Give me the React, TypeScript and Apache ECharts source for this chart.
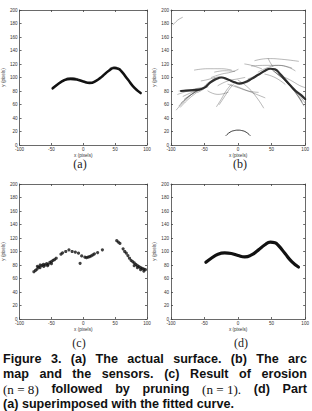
import React, { useEffect, useRef } from "react";
import * as echarts from "echarts";

// (a) actual surface, sampled along the curve [x, y] in pixels
const SURFACE: number[][] = [
  [-48, 84], [-40, 90], [-30, 96], [-20, 98], [-10, 97], [0, 94], [10, 92],
  [20, 95], [30, 102], [40, 110], [48, 114], [55, 113], [60, 109], [70, 97],
  [80, 85], [90, 77],
];
// faint double strokes on the peaks of (a)
const SURFACE_TRACE_1: number[][] = [[-26, 99], [-16, 100], [-6, 96]];
const SURFACE_TRACE_2: number[][] = [[42, 114], [50, 116], [56, 113]];

// (b) dense ridge of the arc map
const ARC_RIDGE: number[][] = [
  [-85, 80], [-70, 81], [-58, 82], [-50, 85], [-42, 92], [-32, 98], [-25, 100],
  [-15, 97], [-5, 93], [2, 91], [10, 93], [20, 98], [30, 104], [40, 110],
  [48, 113], [55, 112], [62, 106], [70, 97], [78, 88], [86, 80], [94, 74], [100, 68],
];
// (b) individual sonar arcs
const ARCS: number[][][] = [
  [[-92, 52], [-80, 65], [-65, 78], [-55, 83]],
  [[-88, 58], [-76, 70], [-62, 80]],
  [[-85, 62], [-72, 73], [-58, 82]],
  [[-80, 68], [-68, 76], [-55, 82]],
  [[-90, 75], [-75, 80], [-60, 84], [-45, 86]],
  [[-88, 80], [-70, 82], [-55, 84], [-45, 92], [-35, 98]],
  [[-60, 78], [-50, 84], [-40, 95], [-28, 101], [-15, 98]],
  [[-65, 111], [-45, 113], [-25, 113], [-10, 111]],
  [[-40, 100], [-25, 105], [-10, 108], [0, 112]],
  [[-30, 88], [-15, 95], [0, 98], [10, 100]],
  [[-32, 57], [-25, 68], [-18, 80], [-10, 90]],
  [[-28, 60], [-20, 72], [-12, 84], [-5, 92]],
  [[0, 96], [15, 85], [28, 70], [38, 55]],
  [[-5, 88], [10, 82], [25, 76], [40, 70]],
  [[-45, 80], [-30, 75], [-15, 78]],
  [[25, 125], [45, 128], [65, 127], [90, 124]],
  [[20, 117], [40, 118], [60, 118], [80, 114]],
  [[45, 128], [48, 122], [52, 116]],
  [[30, 108], [45, 115], [60, 118], [75, 115], [85, 110]],
  [[50, 112], [65, 100], [80, 85], [95, 65]],
  [[55, 108], [70, 95], [85, 78], [98, 58]],
  [[60, 105], [75, 92], [90, 75], [100, 62]],
  [[40, 105], [55, 100], [70, 90]],
  [[15, 98], [30, 104], [42, 110]],
  [[-20, 100], [-5, 93], [10, 92], [20, 97]],
  [[-97, 178], [-90, 185], [-83, 189]],
  [[-55, 95], [-45, 97], [-35, 100]],
  [[-15, 90], [0, 85], [15, 80], [30, 78]],
  [[70, 100], [80, 95], [92, 88], [100, 85]],
  [[10, 120], [20, 118], [35, 113]],
  [[-86, 56], [-74, 68], [-60, 79]],
  [[-82, 72], [-66, 79], [-52, 83]],
  [[52, 110], [68, 97], [84, 80], [96, 62]],
  [[-35, 108], [-20, 110], [-5, 109]],
];
// (b) sensor arc near the origin
const SENSOR_ARC: number[][] = [
  [-18, 14], [-12, 19], [-5, 21.5], [0, 22], [5, 21.5], [12, 19], [18, 14],
];

// (c) points left after erosion and pruning
const EROSION: number[][] = [
  [-77.5, 70], [-75, 72], [-72.5, 74], [-70, 77], [-67.5, 80], [-65, 79],
  [-62.5, 81], [-60, 80], [-57.5, 82], [-55, 81], [-52.5, 84], [-50, 85],
  [-47.5, 87], [-45, 88], [-42.5, 90], [-72, 78], [-68, 76], [-62, 78],
  [-56, 79], [-50, 82], [-35, 96], [-32.5, 98], [-27.5, 100], [-22.5, 102.5],
  [-17.5, 100], [-12.5, 99], [-7.5, 97.5], [-2.5, 93.5], [2.5, 91.5],
  [5, 91], [7.5, 91.5], [10, 92.5], [12.5, 93.5], [15, 95], [17.5, 96.5],
  [22.5, 98.5], [30, 102.5], [-5, 82.5], [52.5, 116], [55, 114], [57.5, 112],
  [62.5, 104], [65, 100], [67.5, 97.5], [70, 94], [72.5, 90], [75, 87],
  [77.5, 85], [80, 83], [82.5, 81], [85, 79], [87.5, 77.5], [90, 76],
  [92.5, 75], [95, 74], [97.5, 73], [80, 79], [85, 76], [90, 73], [95, 71],
];

const X_MIN = -100;
const X_MAX = 100;
const X_STEP = 50;
const Y_MIN = 0;
const Y_MAX = 200;
const Y_STEP = 20;
const PANEL_LABELS = ["(a)", "(b)", "(c)", "(d)"];

const CAPTION_LINES: { t: string; serif?: boolean }[][] = [
  [{ t: "Figure" }, { t: "3." }, { t: "(a)" }, { t: "The" }, { t: "actual" }, { t: "surface." }, { t: "(b)" }, { t: "The" }, { t: "arc" }],
  [{ t: "map" }, { t: "and" }, { t: "the" }, { t: "sensors." }, { t: "(c)" }, { t: "Result" }, { t: "of" }, { t: "erosion" }],
  [{ t: "(n = 8)", serif: true }, { t: "followed" }, { t: "by" }, { t: "pruning" }, { t: "(n = 1).", serif: true }, { t: "(d)" }, { t: "Part" }],
  [{ t: "(a) superimposed with the fitted curve." }],
];

const GRIDS = [
  { left: 12, top: 10, width: 135, height: 135 },
  { left: 171, top: 10, width: 137, height: 135 },
  { left: 12, top: 184, width: 135, height: 135 },
  { left: 171, top: 184, width: 136, height: 135 },
];

const AXIS_COLOR = "#444";
const SANS = "Liberation Sans";
const SERIF = "Liberation Serif";
const CAP_SIZE = 12.6;

function measure(text: string, font: string): number {
  const c = document.createElement("canvas").getContext("2d");
  if (!c) return text.length * 6;
  c.font = font;
  return c.measureText(text).width;
}

function captionGraphics(): any[] {
  const out: any[] = [];
  const x0 = 3;
  const x1 = 307;
  const ys = [359, 374, 389, 404];
  CAPTION_LINES.forEach((words, li) => {
    const fonts = words.map((w) =>
      w.serif ? `${CAP_SIZE + 0.5}px "${SERIF}"` : `bold ${CAP_SIZE}px "${SANS}"`
    );
    const widths = words.map((w, i) => measure(w.t, fonts[i]));
    const total = widths.reduce((a, b) => a + b, 0);
    const last = li === CAPTION_LINES.length - 1;
    const gap = last || words.length < 2 ? 0 : (x1 - x0 - total) / (words.length - 1);
    let x = x0;
    words.forEach((w, i) => {
      out.push({
        type: "text",
        x,
        y: ys[li],
        style: {
          text: w.t,
          font: fonts[i],
          fill: "#111",
          textAlign: "left",
          textVerticalAlign: "middle",
        },
      });
      x += widths[i] + gap;
    });
  });
  return out;
}

export default function App() {
  const ref = useRef<HTMLDivElement>(null);

  useEffect(() => {
    if (!ref.current) return;
    const chart = echarts.init(ref.current, undefined, { renderer: "svg" });

    const lineStyle = { color: AXIS_COLOR, width: 0.8 };
    const labelStyle = { fontSize: 4.6, color: "#333", fontFamily: SANS };
    const axisLine = { show: true, onZero: false, lineStyle };
    const axisTick = { show: true, inside: true, length: 2, lineStyle };
    const xAxis: any[] = [];
    const yAxis: any[] = [];
    GRIDS.forEach((_, g) => {
      const base = { gridIndex: g, type: "value", splitLine: { show: false } };
      xAxis.push({
        ...base, min: X_MIN, max: X_MAX, interval: X_STEP, position: "bottom",
        axisLine, axisTick,
        axisLabel: { ...labelStyle, margin: 2 },
        name: "x (pixels)", nameLocation: "middle", nameGap: 8,
        nameTextStyle: labelStyle,
      });
      xAxis.push({
        ...base, min: X_MIN, max: X_MAX, interval: X_STEP, position: "top",
        axisLine, axisTick,
        axisLabel: { show: false },
      });
      yAxis.push({
        ...base, min: Y_MIN, max: Y_MAX, interval: Y_STEP, position: "left",
        axisLine, axisTick,
        axisLabel: { ...labelStyle, margin: 2 },
        name: "y (pixels)", nameLocation: "middle", nameGap: 9.5,
        nameTextStyle: labelStyle,
      });
      yAxis.push({
        ...base, min: Y_MIN, max: Y_MAX, interval: Y_STEP, position: "right",
        axisLine, axisTick,
        axisLabel: { show: false },
      });
    });

    const onGrid = (g: number) => ({ xAxisIndex: g * 2, yAxisIndex: g * 2 });
    const curve = (g: number, data: number[][], width: number, color: string, opacity = 1) => ({
      type: "line", ...onGrid(g), data, smooth: true, showSymbol: false, silent: true,
      lineStyle: { width, color, opacity, cap: "round", join: "round" },
    });

    const series: any[] = [
      curve(0, SURFACE, 2.6, "#111"),
      curve(0, SURFACE_TRACE_1, 0.8, "#333", 0.7),
      curve(0, SURFACE_TRACE_2, 0.8, "#333", 0.7),
      ...ARCS.map((a) => curve(1, a, 0.7, "#444", 0.55)),
      curve(1, ARC_RIDGE, 2.2, "#1a1a1a", 0.9),
      curve(1, SENSOR_ARC, 0.9, "#222"),
      {
        type: "scatter", ...onGrid(2), data: EROSION, symbol: "circle",
        symbolSize: 3.2, itemStyle: { color: "#111" }, silent: true,
      },
      curve(3, SURFACE, 3.2, "#111"),
    ];

    const panelPos = [[80, 164], [240, 164], [79, 343], [241, 343]];
    const graphic: any[] = PANEL_LABELS.map((t, i) => ({
      type: "text",
      x: panelPos[i][0],
      y: panelPos[i][1],
      style: {
        text: t, font: `12px "${SERIF}"`, fill: "#222",
        textAlign: "center", textVerticalAlign: "middle",
      },
    }));

    chart.setOption({
      animation: false,
      backgroundColor: "#fff",
      grid: GRIDS.map((g) => ({ ...g, containLabel: false })),
      xAxis,
      yAxis,
      series,
      graphic: [...graphic, ...captionGraphics()],
    });

    return () => chart.dispose();
  }, []);

  return (
    <div
      ref={ref}
      style={{ position: "absolute", left: 0, top: 0, width: 312, height: 411 }}
    />
  );
}
